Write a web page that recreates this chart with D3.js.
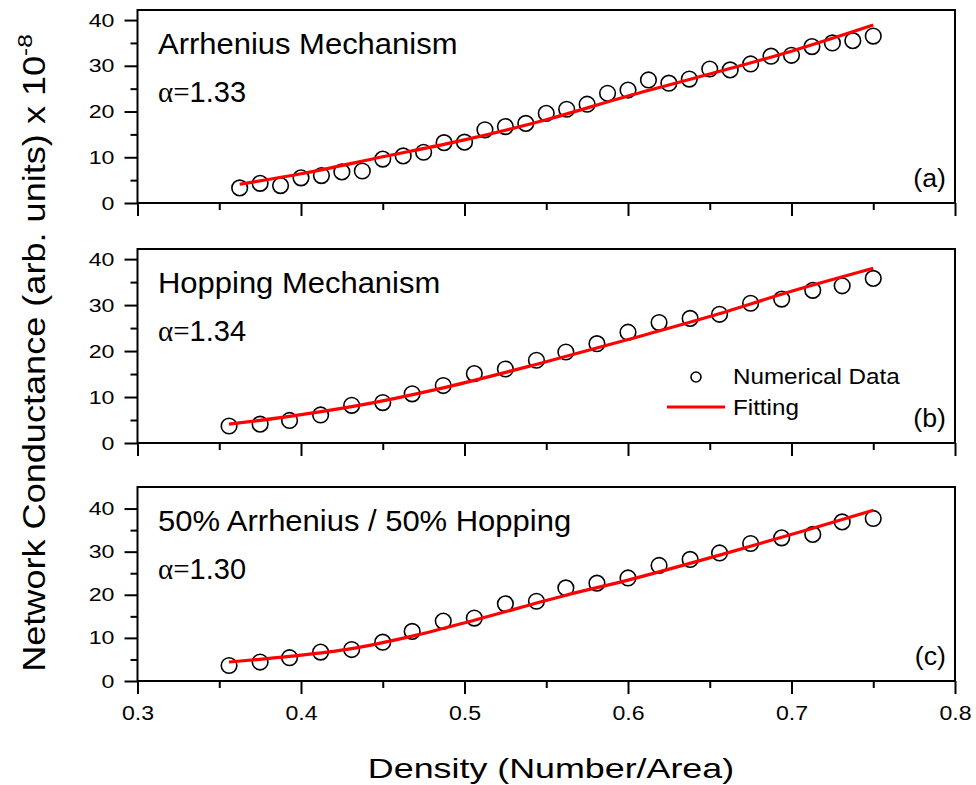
<!DOCTYPE html>
<html lang="en">
<head>
    <meta charset="UTF-8">
    <title>Network Conductance vs Density</title>
    <script src="https://d3js.org/d3.v7.min.js"></script>
    <style>
        body {
            margin: 0;
            padding: 0;
            background: #ffffff;
            font-family: "Liberation Sans", Arial, sans-serif;
        }
        .frame { fill: none; stroke: #000; stroke-width: 2; }
        .axis path { display: none; }
        .axis line { stroke: #000; stroke-width: 2; }
        .axis text { font-family: "Liberation Sans", Arial, sans-serif; fill: #000; }
        .point { fill: none; stroke: #000; stroke-width: 1.6; }
        .fit { fill: none; stroke: #ff0000; stroke-width: 3.2; }
        .title { font-size: 29.5px; fill: #000; }
        .alpha { font-size: 29px; fill: #000; }
        .tag { font-size: 25px; fill: #000; text-anchor: end; }
        .legend { font-size: 22px; fill: #000; }
    </style>
</head>
<body>
    <svg id="chart" width="976" height="785"></svg>

    <script>
        // --- data ---
        // density values of the simulated points
        const densityA = [0.3625, 0.375, 0.3875, 0.4, 0.4125, 0.425, 0.4375, 0.45, 0.4625, 0.475, 0.4875,
            0.5, 0.5125, 0.525, 0.5375, 0.55, 0.5625, 0.575, 0.5875, 0.6, 0.6125, 0.625, 0.6375, 0.65,
            0.6625, 0.675, 0.6875, 0.7, 0.7125, 0.725, 0.7375, 0.75];
        const densityBC = [0.356, 0.375, 0.393, 0.412, 0.431, 0.450, 0.468, 0.487, 0.506, 0.525, 0.544,
            0.562, 0.581, 0.600, 0.619, 0.638, 0.656, 0.675, 0.694, 0.713, 0.731, 0.750];

        // numerical data (x 10^-8)
        const conductanceA = [3.3, 4.3, 3.8, 5.5, 6.0, 6.8, 7.0, 9.6, 10.3, 11.1, 13.2, 13.3, 16.0, 16.7,
            17.4, 19.6, 20.5, 21.6, 24.0, 24.7, 26.9, 26.2, 27.1, 29.3, 29.1, 30.4, 32.1, 32.3, 34.2, 35.0,
            35.5, 36.5];
        const conductanceB = [3.7, 4.1, 4.9, 6.1, 8.2, 8.8, 10.7, 12.5, 15.1, 16.1, 18.0, 19.8, 21.6, 24.1,
            26.2, 27.1, 28.0, 30.4, 31.3, 33.2, 34.2, 35.8];
        const conductanceC = [3.6, 4.4, 5.4, 6.7, 7.3, 9.0, 11.5, 13.9, 14.6, 17.9, 18.5, 21.6, 22.7, 23.9,
            26.8, 28.2, 29.7, 31.9, 33.2, 34.0, 36.9, 37.7];

        // fitted curves, sampled from the red lines
        const fitXA = [0.3625, 0.4, 0.45, 0.5, 0.55, 0.6, 0.65, 0.7, 0.75];
        const fitYA = [4.1, 6.4, 10.1, 13.8, 18.2, 23.4, 28.2, 33.2, 38.9];
        const fitXB = [0.356, 0.393, 0.431, 0.487, 0.546, 0.6, 0.65, 0.7, 0.75];
        const fitYB = [4.1, 5.8, 7.9, 12.0, 17.3, 22.5, 27.5, 33.0, 38.0];
        const fitXC = [0.356, 0.393, 0.431, 0.468, 0.506, 0.562, 0.6, 0.656, 0.712, 0.75];
        const fitYC = [4.4, 5.7, 7.5, 10.4, 14.1, 19.9, 23.4, 29.2, 35.3, 39.6];

        const panelTitles = ["Arrhenius Mechanism", "Hopping Mechanism", "50% Arrhenius / 50% Hopping"];
        const alphaValues = ["1.33", "1.34", "1.30"];
        const panelTags = ["(a)", "(b)", "(c)"];
        const yTickValues = [0, 10, 20, 30, 40];
        const xTickValues = [0.3, 0.4, 0.5, 0.6, 0.7, 0.8];
        const legendLabels = ["Numerical Data", "Fitting"];

        // --- layout ---
        const svg = d3.select("#chart");
        const left = 137.5, right = 955;
        const stretch = 1.22; // the source figure is widened sideways, so is its lettering
        const panels = [
            { top: 10,  bottom: 203, yMax: 42.2, xs: densityA,  ys: conductanceA, fx: fitXA, fy: fitYA },
            { top: 249, bottom: 443, yMax: 42.2, xs: densityBC, ys: conductanceB, fx: fitXB, fy: fitYB },
            { top: 487, bottom: 681, yMax: 45.0, xs: densityBC, ys: conductanceC, fx: fitXC, fy: fitYC }
        ];

        const x = d3.scaleLinear().domain([0.3, 0.8]).range([left, right]);

        panels.forEach((p, i) => {
            const y = d3.scaleLinear().domain([0, p.yMax]).range([p.bottom, p.top]);
            const g = svg.append("g");

            // minor ticks (no labels)
            g.append("g")
                .attr("class", "axis")
                .attr("transform", `translate(0,${p.bottom})`)
                .call(d3.axisBottom(x).tickValues([0.35, 0.45, 0.55, 0.65, 0.75]).tickSize(7).tickFormat(""));
            g.append("g")
                .attr("class", "axis")
                .attr("transform", `translate(${left},0)`)
                .call(d3.axisLeft(y).tickValues([5, 15, 25, 35]).tickSize(7).tickFormat(""));

            // major ticks
            const xAxis = d3.axisBottom(x).tickValues(xTickValues).tickSize(13).tickPadding(11);
            if (i < 2) xAxis.tickFormat("");
            else xAxis.tickFormat(d3.format(".1f"));
            g.append("g")
                .attr("class", "axis")
                .attr("transform", `translate(0,${p.bottom})`)
                .call(xAxis)
                .selectAll("text")
                .attr("font-size", 21)
                .attr("transform", "scale(1.1,1)");

            g.append("g")
                .attr("class", "axis")
                .attr("transform", `translate(${left},0)`)
                .call(d3.axisLeft(y).tickValues(yTickValues).tickSize(13).tickPadding(10))
                .selectAll("text")
                .attr("font-size", 19)
                .attr("x", -23 / stretch)
                .attr("transform", `scale(${stretch},1)`);

            // box
            g.append("rect")
                .attr("class", "frame")
                .attr("x", left).attr("y", p.top)
                .attr("width", right - left).attr("height", p.bottom - p.top);

            // fitted line
            const fitData = p.fx.map((d, k) => [d, p.fy[k]]);
            const line = d3.line()
                .x(d => x(d[0]))
                .y(d => y(d[1]))
                .curve(d3.curveMonotoneX);

            // data circles
            g.append("g")
                .selectAll("circle")
                .data(p.xs.map((d, k) => [d, p.ys[k]]))
                .enter().append("circle")
                .attr("class", "point")
                .attr("cx", d => x(d[0]))
                .attr("cy", d => y(d[1]))
                .attr("r", 7.8);

            g.append("path")
                .datum(fitData)
                .attr("class", "fit")
                .attr("d", line);

            // panel texts
            g.append("text")
                .attr("class", "title")
                .attr("transform", `translate(158,${p.top + 44}) scale(1.05,1)`)
                .text(panelTitles[i]);

            const a = g.append("text")
                .attr("class", "alpha")
                .attr("x", 158)
                .attr("y", p.top + 92);
            a.append("tspan")
                .attr("font-family", "'Liberation Serif', 'DejaVu Serif', serif")
                .text("\u03b1=");
            a.append("tspan").text(alphaValues[i]);

            g.append("text")
                .attr("class", "tag")
                .attr("transform", `translate(946,${p.bottom - 16}) scale(1.07,1)`)
                .text(panelTags[i]);
        });

        // --- legend (in panel b) ---
        const legend = svg.append("g");
        legend.append("circle")
            .attr("class", "point")
            .attr("cx", 696).attr("cy", 377)
            .attr("r", 5).attr("stroke-width", 1.2);
        legend.append("text")
            .attr("class", "legend")
            .attr("transform", "translate(733,384) scale(1.1,1)")
            .text(legendLabels[0]);
        legend.append("line")
            .attr("x1", 667).attr("x2", 725)
            .attr("y1", 407).attr("y2", 407)
            .attr("stroke", "#ff0000").attr("stroke-width", 3.2);
        legend.append("text")
            .attr("class", "legend")
            .attr("transform", "translate(733,415) scale(1.1,1)")
            .text(legendLabels[1]);

        // --- axis titles ---
        svg.append("text")
            .attr("transform", "translate(551,778) scale(1.28,1)")
            .attr("text-anchor", "middle")
            .attr("font-size", 28)
            .text("Density (Number/Area)");

        const yTitle = svg.append("text")
            .attr("transform", "translate(45,353) rotate(-90) scale(1.165,1)")
            .attr("text-anchor", "middle")
            .attr("font-size", 31);
        yTitle.append("tspan").text("Network Conductance (arb. units) x 10");
        yTitle.append("tspan")
            .attr("font-size", 21)
            .attr("dy", -13)
            .text("-8");
    </script>
</body>
</html>
